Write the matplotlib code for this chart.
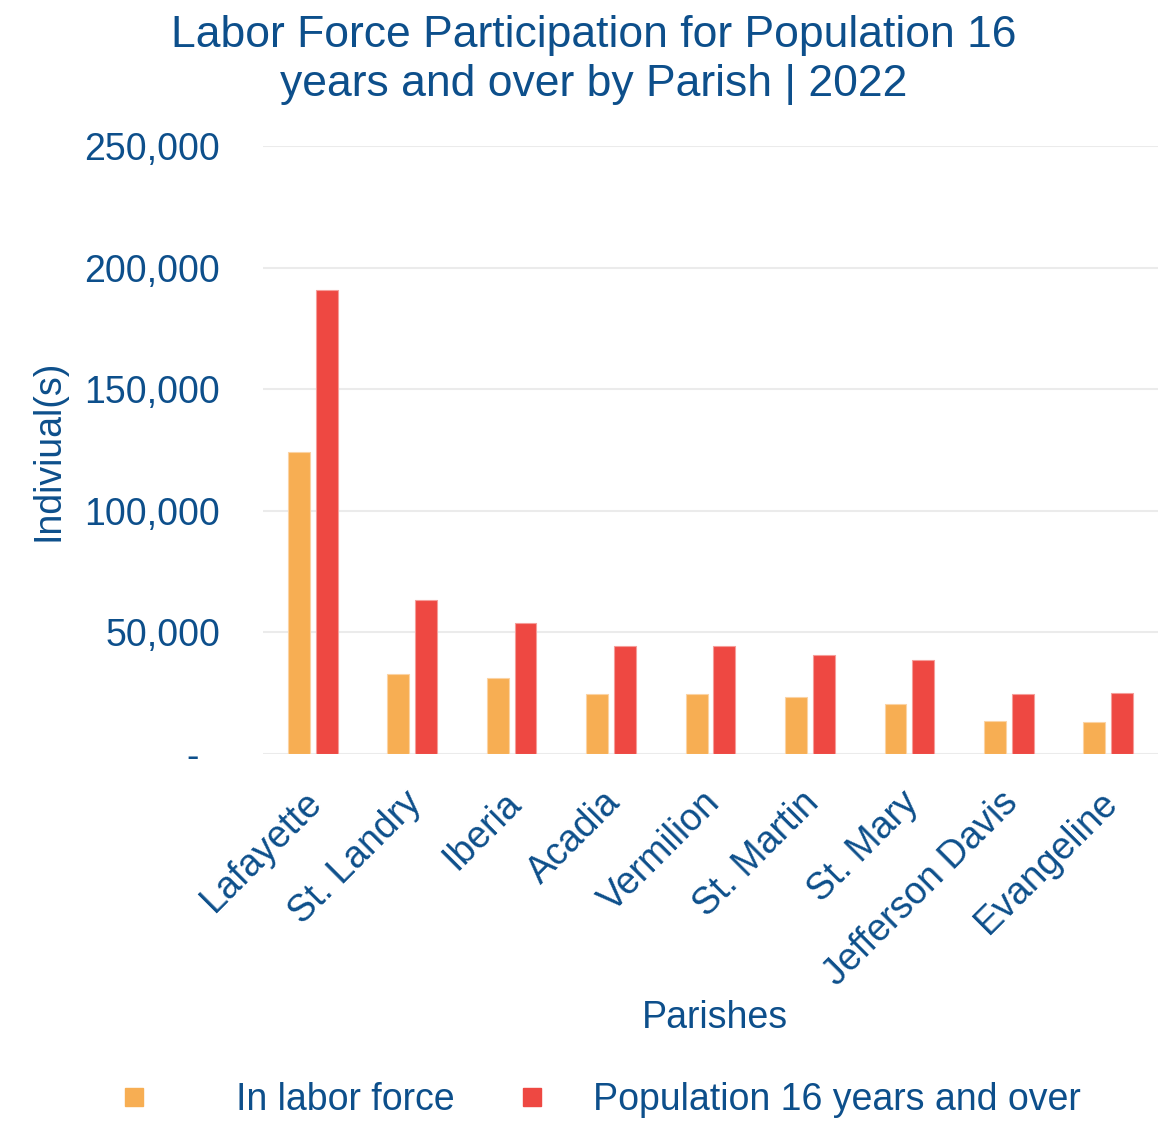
import matplotlib.pyplot as plt
import numpy as np
from matplotlib.lines import Line2D
from matplotlib.ticker import FuncFormatter
from matplotlib.transforms import ScaledTranslation

plt.rcParams['font.family'] = ['Liberation Sans', 'DejaVu Sans']

parishes = ['Lafayette', 'St. Landry', 'Iberia', 'Acadia', 'Vermilion',
            'St. Martin', 'St. Mary', 'Jefferson Davis', 'Evangeline']
in_labor_force = [124200, 33000, 31100, 24700, 24600, 23400, 20600, 13600, 13200]
pop_16_over = [190800, 63200, 54000, 44400, 44400, 40700, 38500, 24700, 25100]

blue = '#0d4f8b'
orange = '#f7ae53'
red = '#ee4842'
fs = 27

fig = plt.figure(figsize=(11.58, 11.25), dpi=100)
ax = fig.add_axes([0.2271, 0.3298, 0.7729, 0.5404])

x = np.arange(len(parishes))
w = 0.22
ax.bar(x - 0.14, in_labor_force, w, color=orange, edgecolor='#fbd3a4', linewidth=0.8)
ax.bar(x + 0.14, pop_16_over, w, color=red, edgecolor='#f59d99', linewidth=0.8)

ax.set_xlim(-0.5, len(parishes) - 0.5)
ax.set_ylim(0, 250000)
ax.set_yticks(np.arange(0, 250001, 50000))
ax.yaxis.set_major_formatter(FuncFormatter(lambda v, p: '-  ' if v == 0 else f'{int(v):,}'))
ax.grid(axis='y', color='#ebebeb', linewidth=1.5)
ax.set_axisbelow(True)
for s in ax.spines.values():
    s.set_visible(False)
ax.tick_params(axis='both', length=0, labelsize=fs, labelcolor=blue)
ax.tick_params(axis='y', pad=31)
ax.tick_params(axis='x', pad=22)

ax.set_xticks(x)
ax.set_xticklabels(parishes, rotation=45, ha='right', va='top', rotation_mode='anchor')
shift = ScaledTranslation(-9 / 100, 0, fig.dpi_scale_trans)
for lbl in ax.get_xticklabels():
    lbl.set_transform(lbl.get_transform() + shift)

ax.set_ylabel('Indiviual(s)', fontsize=fs, color=blue)
ax.yaxis.set_label_coords(-0.22, 0.5)
fig.text(715 / 1158, 1 - 1018 / 1125, 'Parishes', fontsize=fs, color=blue, ha='center', va='center')

fig.text(0.513, 1 - 60 / 1125, 'Labor Force Participation for Population 16\nyears and over by Parish | 2022',
         fontsize=32, color=blue, ha='center', va='center', linespacing=1.25)

# two legend entries placed separately, each with its own gap
entries = [(orange, 'In labor force', 125, 2.45), (red, 'Population 16 years and over', 523, 1.36)]
for col, label, xpx, gap in entries:
    h = Line2D([], [], marker='s', linestyle='', markersize=13.5, color=col)
    leg = fig.legend([h], [label], loc='center left', bbox_to_anchor=(xpx / 1158, 1 - 1100 / 1125),
                     frameon=False, fontsize=fs, labelcolor=blue, handlelength=0.5,
                     handletextpad=gap, borderpad=0, borderaxespad=0)

fig.savefig('out.png', dpi=100)
